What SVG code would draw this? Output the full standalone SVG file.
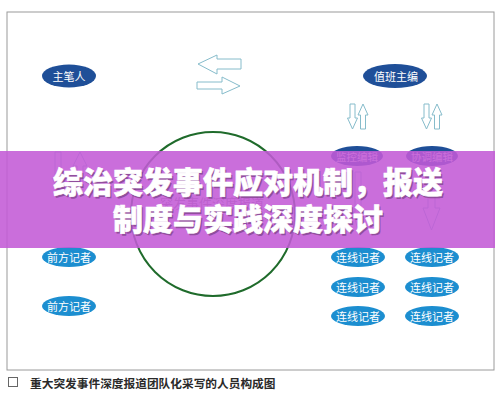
<svg xmlns="http://www.w3.org/2000/svg" width="499" height="400" viewBox="0 0 499 400">
<style>
.lbl{font-family:"Noto Sans CJK SC","Noto Sans",sans-serif;fill:#fff;text-anchor:middle;dominant-baseline:central}
.arr{fill:#fff;stroke:#86bccb;stroke-width:1}
.dk{fill:#1f4f98}
.lt{fill:#1c8ed0}
</style>
<rect x="0" y="0" width="499" height="400" fill="#fff"/>
<rect x="7" y="12" width="487" height="358" fill="#fff" stroke="#9a9a9a" stroke-width="1"/>
<g id="connectors">
<polygon class="arr" points="198,64 217,55 217,59 241,59 241,69 217,69 217,74"/>
<polygon class="arr" points="197,82 222,82 222,77 240,86 222,94 222,89 197,89"/>
<polygon class="arr" points="350,104 355,104 355,118 357.5,118 352.5,129 347.5,118 350,118"/>
<polygon class="arr" points="363,104 368,115 365.5,115 365.5,129 360.5,129 360.5,115 358,115"/>
<polygon class="arr" points="424,104 429,104 429,118 431.5,118 426.5,129 421.5,118 424,118"/>
<polygon class="arr" points="437,104 442,115 439.5,115 439.5,129 434.5,129 434.5,115 432,115"/>
<polygon class="arr" points="55,152 61,152 61,178 64,178 58,190 52,178 55,178"/>
<polygon class="arr" points="80,152 87,166 83,166 83,190 77,190 77,166 73,166"/>
<polygon class="arr" points="355,172 361,172 361,212 363,212 358,230 353,212 355,212"/>
<polygon class="arr" points="428,172 435,172 435,208 440,208 431.5,230 423,208 428,208"/>
</g>
<g id="circle">
<circle cx="213" cy="214" r="82" fill="none" stroke="#1f6b2b" stroke-width="2"/>
<text x="212" y="202" font-family="Noto Sans CJK SC,sans-serif" font-size="13" fill="#8a8a8a" text-anchor="middle" dominant-baseline="central">突发事件深度报道</text>
</g>
<g id="n-zhubiren"><ellipse class="dk" cx="69" cy="76" rx="27" ry="11.5"/><text class="lbl" x="69" y="76" font-size="11">主笔人</text></g>
<g id="n-zhiban"><ellipse class="dk" cx="395" cy="76" rx="32" ry="12"/><text class="lbl" x="396" y="76" font-size="11">值班主编</text></g>
<g id="n-jiankong"><ellipse class="dk" cx="357" cy="156" rx="26" ry="10"/><text class="lbl" x="357" y="156" font-size="10.5">监控编辑</text></g>
<g id="n-xietiao"><ellipse class="dk" cx="432" cy="156" rx="26" ry="10"/><text class="lbl" x="432" y="156" font-size="10.5">协调编辑</text></g>
<g id="n-qianfang1"><ellipse class="lt" cx="69" cy="257" rx="27" ry="10"/><text class="lbl" x="69" y="257" font-size="11">前方记者</text></g>
<g id="n-qianfang2"><ellipse class="lt" cx="69" cy="306" rx="27" ry="10"/><text class="lbl" x="69" y="306" font-size="11">前方记者</text></g>
<g id="n-lx1"><ellipse class="lt" cx="358" cy="257" rx="27" ry="10"/><text class="lbl" x="358" y="257" font-size="11">连线记者</text></g>
<g id="n-lx2"><ellipse class="lt" cx="432" cy="257" rx="27" ry="10"/><text class="lbl" x="432" y="257" font-size="11">连线记者</text></g>
<g id="n-lx3"><ellipse class="lt" cx="358" cy="287" rx="27" ry="10"/><text class="lbl" x="358" y="287" font-size="11">连线记者</text></g>
<g id="n-lx4"><ellipse class="lt" cx="432" cy="287" rx="27" ry="10"/><text class="lbl" x="432" y="287" font-size="11">连线记者</text></g>
<g id="n-lx5"><ellipse class="lt" cx="358" cy="316" rx="27" ry="10"/><text class="lbl" x="358" y="316" font-size="11">连线记者</text></g>
<g id="n-lx6"><ellipse class="lt" cx="432" cy="316" rx="27" ry="10"/><text class="lbl" x="432" y="316" font-size="11">连线记者</text></g>
<g id="caption">
<rect x="8.5" y="377.5" width="9" height="9" fill="#fff" stroke="#666" stroke-width="1"/>
<text x="30" y="382" font-family="Noto Sans CJK SC,sans-serif" font-size="11.7" font-weight="bold" fill="#2a2a2a" dominant-baseline="central">重大突发事件深度报道团队化采写的人员构成图</text>
</g>
<g id="banner">
<rect x="0" y="151" width="495" height="97" fill="#c35ad6" opacity="0.88"/>
<g font-family="Noto Sans CJK SC,sans-serif" font-size="30" font-weight="900" text-anchor="middle">
<text x="249.5" y="194.5" fill="#5a2f60" opacity="0.5">综治突发事件应对机制，报送</text>
<text x="249.5" y="231.5" fill="#5a2f60" opacity="0.5">制度与实践深度探讨</text>
<text x="248" y="193" fill="#fff" stroke="#fff" stroke-width="0.6">综治突发事件应对机制，报送</text>
<text x="248" y="230" fill="#fff" stroke="#fff" stroke-width="0.6">制度与实践深度探讨</text>
</g>
</g>
</svg>
